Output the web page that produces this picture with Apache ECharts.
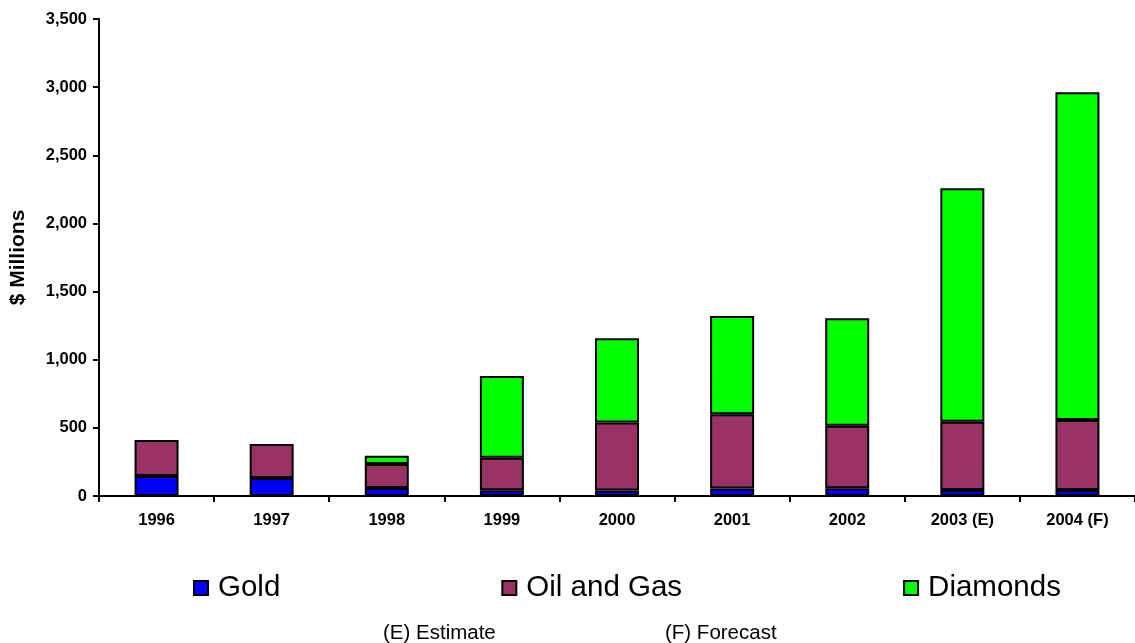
<!DOCTYPE html>
<html>
<head>
<meta charset="utf-8">
<script src="https://cdn.jsdelivr.net/npm/echarts@6/dist/echarts.min.js"></script>
<style>
  html, body { margin: 0; padding: 0; background: #fff; }
  #chart { width: 1135px; height: 643px; }
</style>
</head>
<body>
<div id="chart"></div>
<script>
// Revenue by sector, $ millions
const years = ['1996', '1997', '1998', '1999', '2000', '2001', '2002', '2003 (E)', '2004 (F)'];
const gold = [146, 132, 58, 42, 40, 55, 56, 44, 44];
const oilAndGas = [264, 250, 177, 239, 500, 544, 459, 501, 514];
const diamonds = [null, null, 60, 600, 617, 721, 790, 1713, 2405];
const yTicks = { min: 0, max: 3500, step: 500 };
const notes = ['(E) Estimate', '(F) Forecast'];

const FONT = '"Liberation Sans", Arial, sans-serif';
const chart = echarts.init(document.getElementById('chart'), null, { renderer: 'canvas' });

function barSeries(name, values, color) {
  return {
    name: name,
    type: 'bar',
    stack: 'total',
    barWidth: 44,
    data: values,
    itemStyle: { color: color, borderColor: '#000', borderWidth: 2 },
    emphasis: { disabled: true }
  };
}

chart.setOption({
  animation: false,
  backgroundColor: '#fff',
  grid: { left: 99, top: 19, width: 1040, height: 477, containLabel: false },
  legend: {
    left: 193,
    top: 573,
    orient: 'horizontal',
    padding: 0,
    itemGap: 221,
    itemWidth: 14,
    itemHeight: 14,
    icon: 'rect',
    selectedMode: false,
    itemStyle: { borderColor: '#000', borderWidth: 2 },
    textStyle: { fontFamily: FONT, fontSize: 29.5, color: '#000', padding: [0, 0, 0, 5] },
    data: ['Gold', 'Oil and Gas', 'Diamonds']
  },
  xAxis: {
    type: 'category',
    data: years,
    boundaryGap: true,
    axisLine: { lineStyle: { color: '#000', width: 2 } },
    axisTick: { show: true, alignWithLabel: false, length: 6, lineStyle: { color: '#000', width: 2 } },
    axisLabel: { fontFamily: FONT, fontWeight: 'bold', fontSize: 16.5, color: '#000', margin: 16, interval: 0 },
    splitLine: { show: false }
  },
  yAxis: {
    type: 'value',
    min: yTicks.min,
    max: yTicks.max,
    interval: yTicks.step,
    name: '$ Millions',
    nameLocation: 'middle',
    nameRotate: 90,
    nameGap: 70,
    nameTextStyle: { fontFamily: FONT, fontWeight: 'bold', fontSize: 21, color: '#000' },
    axisLine: { show: true, lineStyle: { color: '#000', width: 2 } },
    axisTick: { show: true, length: 6, lineStyle: { color: '#000', width: 2 } },
    axisLabel: {
      fontFamily: FONT, fontWeight: 'bold', fontSize: 16.5, color: '#000', margin: 12,
      formatter: v => v.toLocaleString('en-US')
    },
    splitLine: { show: false }
  },
  series: [
    barSeries('Gold', gold, '#0000ff'),
    barSeries('Oil and Gas', oilAndGas, '#993366'),
    barSeries('Diamonds', diamonds, '#00ff00')
  ],
  graphic: [
    { type: 'text', left: 383, top: 623, style: { text: notes[0], font: '20.5px ' + FONT, fill: '#000' } },
    { type: 'text', left: 665, top: 623, style: { text: notes[1], font: '20.5px ' + FONT, fill: '#000' } }
  ]
});
</script>
</body>
</html>
